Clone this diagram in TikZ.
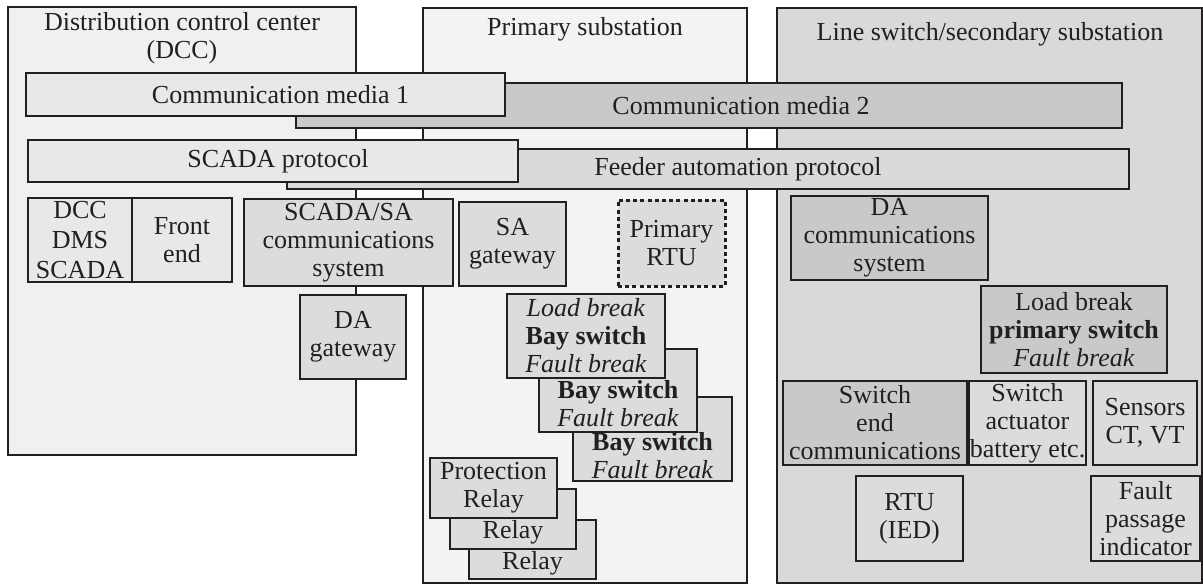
\documentclass[tikz,border=0pt]{standalone}
\usepackage{fontspec}
\setmainfont{Liberation Serif}
\usepackage{xcolor}
\usepackage{tikz}
\usetikzlibrary{positioning}
\definecolor{inkdark}{HTML}{231F20}
\definecolor{dccbg}{HTML}{F0F0F0}
\definecolor{psbg}{HTML}{F3F3F3}
\definecolor{lsbg}{HTML}{D8D9DB}
\definecolor{lightfill}{HTML}{E6E8E9}
\definecolor{midfill}{HTML}{DADCDD}
\definecolor{feederfill}{HTML}{D8DADB}
\definecolor{darkfill}{HTML}{C8C9CB}
\tikzset{
    every node/.style={
        font=\fontsize{13}{14}\selectfont, text=inkdark
    },
    zone/.style={
        rectangle, draw=inkdark, fill=#1,
        line width=1.1pt, inner sep=0pt
    },
    zone title/.style={
        align=center, inner sep=0pt
    },
    bar/.style={
        rectangle, draw=inkdark, fill=#1,
        line width=1.4pt, inner sep=0pt
    },
    unit/.style={
        rectangle, draw=inkdark, fill=#1,
        line width=1.4pt, inner sep=0pt, align=center
    },
    unit/.default={midfill},
    planned unit/.style={
        unit, line width=1.5pt, dash pattern=on 2pt off 1.6pt
    },
}
\begin{document}
\begin{tikzpicture}[x=0.5pt, y=-0.5pt]
    \useasboundingbox (0,0) rectangle (1203,585);

    % Zones
    \node[zone=dccbg, minimum width=174pt, minimum height=224pt] (dcc) at (182,231) {};
    \node[zone title] (dcc title) at (182,38) {Distribution control center\\(DCC)};
    \node[zone=psbg, minimum width=162pt, minimum height=287.5pt] (ps) at (585,295.5) {};
    \node[zone title] (ps title) at (585,29) {Primary substation};
    \node[zone=lsbg, minimum width=212.5pt, minimum height=287.5pt] (ls) at (989.5,295.5) {};
    \node[zone title] (ls title) at (990,34) {Line switch/secondary substation};

    % Communication layers
    \node[bar=darkfill, minimum width=413pt, minimum height=22.5pt] (media2) at (709,105.5) {\hspace*{32pt}Communication media 2};
    \node[bar=lightfill, minimum width=239.5pt, minimum height=21.5pt] (media1) at (265.5,94.5) {\hspace*{15pt}Communication media 1};
    \node[bar=feederfill, minimum width=421pt, minimum height=20pt] (feeder) at (708,169) {\hspace*{30pt}Feeder automation protocol};
    \node[bar=lightfill, minimum width=245pt, minimum height=21pt] (scada) at (273,161) {\hspace*{5pt}SCADA protocol};

    % Control center
    \node[unit=lightfill, minimum width=52pt, minimum height=42pt] (dms) at (80,240) {DCC\\[1pt]DMS\\[1pt]SCADA};
    \node[unit=lightfill, minimum width=50pt, minimum height=42pt] (front) at (182,240) {Front\\end};
    \node[unit, minimum width=104.5pt, minimum height=43.5pt] (scadasa) at (348.5,242.5) {SCADA/SA\\communications\\system};
    \node[unit, minimum width=53pt, minimum height=42pt] (dagw) at (353,337) {DA\\gateway};

    % Primary substation
    \node[unit, minimum width=53.5pt, minimum height=42pt] (sagw) at (512.5,244) {SA\\gateway};
    \node[planned unit, minimum width=53.5pt, minimum height=43pt] (prtu) at (671.5,243) {Primary\\RTU};
    \node[unit, minimum width=79.5pt, minimum height=42pt] (bay3) at (652.5,439) {\mbox{}\\[12pt]\textbf{Bay switch}\\\textit{Fault break}};
    \node[unit, minimum width=79pt, minimum height=41.5pt] (bay2) at (618,390.5) {\mbox{}\\[8pt]\textbf{Bay switch}\\\textit{Fault break}};
    \node[unit, minimum width=79pt, minimum height=42pt] (bay1) at (586,336) {\textit{Load break}\\\textbf{Bay switch}\\\textit{Fault break}};
    \node[unit, minimum width=63.5pt, minimum height=29.5pt] (relay3) at (532.5,549.5) {\mbox{}\\[9pt]Relay};
    \node[unit, minimum width=63pt, minimum height=30pt] (relay2) at (513,519) {\mbox{}\\[8pt]Relay};
    \node[unit, minimum width=63.5pt, minimum height=30pt] (relay1) at (493.5,488) {Protection\\Relay};

    % Line switch / secondary substation
    \node[unit=darkfill, minimum width=98.5pt, minimum height=42pt] (dacomm) at (889.5,238) {DA\\communications\\system};
    \node[unit=darkfill, minimum width=93pt, minimum height=43.5pt] (pswitch) at (1074,329.5) {Load break\\\textbf{primary switch}\\\textit{Fault break}};
    \node[unit=darkfill, minimum width=92pt, minimum height=42pt] (swend) at (875,423) {Switch\\end\\communications};
    \node[unit, minimum width=58.5pt, minimum height=42pt] (actuator) at (1027.5,423) {Switch\\actuator\\battery etc.};
    \node[unit, minimum width=52pt, minimum height=42pt] (sensors) at (1145,423) {Sensors\\CT, VT};
    \node[unit, minimum width=53.5pt, minimum height=42.5pt] (rtu) at (909.5,518.5) {RTU\\(IED)};
    \node[unit, minimum width=54.5pt, minimum height=42.5pt] (fpi) at (1145.5,518.5) {Fault\\passage\\indicator};
\end{tikzpicture}
\end{document}
